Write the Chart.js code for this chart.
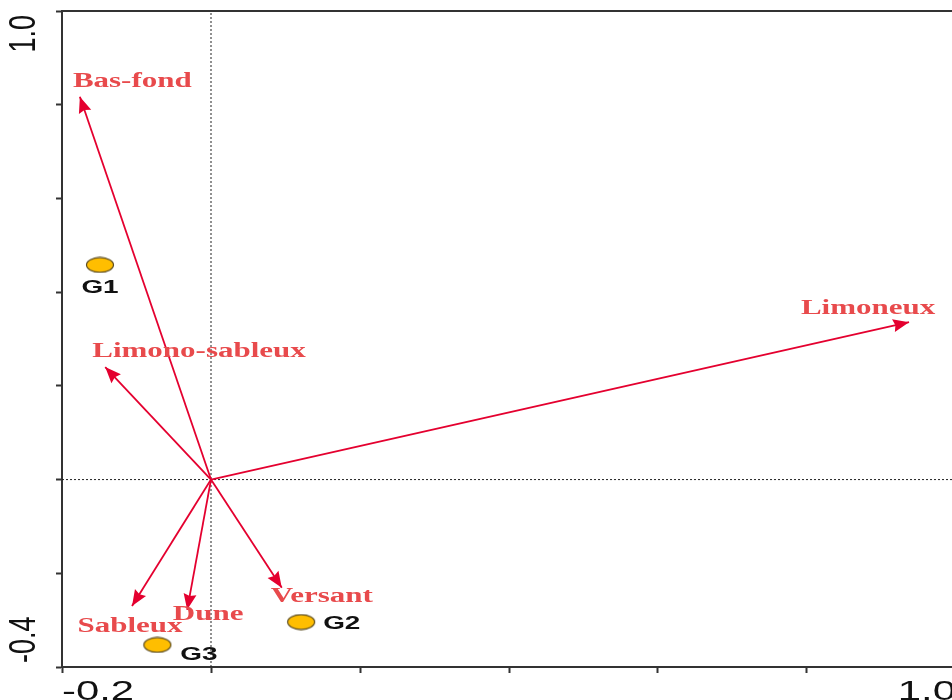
<!DOCTYPE html>
<html>
<head>
<meta charset="utf-8">
<script src="https://cdn.jsdelivr.net/npm/chart.js@4.4.1/dist/chart.umd.min.js"></script>
<style>
html, body { margin: 0; padding: 0; overflow: hidden; background: #fff; }
#wrap { width: 960px; height: 700px; }
</style>
</head>
<body>
<div id="wrap"><canvas id="c" width="960" height="700" style="width:960px;height:700px"></canvas></div>
<script>
// ---- data ----
const groupNames = ['G1', 'G2', 'G3'];
const groupX = [-0.149, 0.121, -0.072];
const groupY = [0.458, -0.304, -0.353];

const varNames = ['Bas-fond', 'Limono-sableux', 'Limoneux', 'Sableux', 'Dune', 'Versant'];
const varX = [-0.176, -0.142, 0.937, -0.106, -0.032, 0.095];
const varY = [0.817, 0.240, 0.336, -0.270, -0.278, -0.231];

const xTickLabels = ['-0.2', '1.0'];
const yTickLabels = ['-0.4', '1.0'];
const xMin = -0.2, xMax = 1.0, yMin = -0.4, yMax = 1.0;

// ---- styles (pixel offsets for labels, relative to mark) ----
const STRETCH = 1.55;
const varLabelStyle = [
  { dx: -7, dy: -15, align: 'left' },
  { dx: -13, dy: -15, align: 'left' },
  { dx: -41, dy: -13, align: 'center' },
  { dx: -2, dy: 21, align: 'center' },
  { dx: 21, dy: 5, align: 'center' },
  { dx: 40, dy: 9, align: 'center' }
];
const groupLabelStyle = [
  { dx: 0, dy: 23, align: 'center' },
  { dx: 22, dy: 2, align: 'left' },
  { dx: 23, dy: 10, align: 'left' }
];
const ARROW_COLOR = '#e4002f';
const VAR_TEXT_COLOR = '#e84a4c';
const AXIS_COLOR = '#333333';

// ellipse point image
function ellipseImage() {
  const cv = document.createElement('canvas');
  cv.width = 30; cv.height = 17;
  const g = cv.getContext('2d');
  g.beginPath();
  g.ellipse(15, 8.5, 13.5, 7.3, 0, 0, Math.PI * 2);
  g.fillStyle = '#ffbe00';
  g.fill();
  g.lineWidth = 1.2;
  g.strokeStyle = '#5a4b20';
  g.stroke();
  return cv;
}

const datasets = [];
// zero reference lines
datasets.push({
  type: 'line', data: [{x: 0, y: yMin}, {x: 0, y: yMax}],
  borderColor: '#222', borderWidth: 1, borderDash: [2, 2], pointRadius: 0, showLine: true, order: 5
});
datasets.push({
  type: 'line', data: [{x: xMin, y: 0}, {x: xMax, y: 0}],
  borderColor: '#222', borderWidth: 1, borderDash: [2, 2], pointRadius: 0, showLine: true, order: 5
});
// arrows
varNames.forEach((n, i) => {
  datasets.push({
    type: 'line', label: n, data: [{x: 0, y: 0}, {x: varX[i], y: varY[i]}],
    borderColor: ARROW_COLOR, borderWidth: 1.8, pointRadius: 0, showLine: true, order: 3
  });
});
// groups
datasets.push({
  type: 'scatter', label: 'groups',
  data: groupNames.map((n, i) => ({x: groupX[i], y: groupY[i]})),
  pointStyle: ellipseImage(), pointRadius: 10, order: 1
});

function drawStretched(ctx, text, x, y, align, font, color) {
  ctx.save();
  ctx.font = font;
  ctx.fillStyle = color;
  ctx.textBaseline = 'middle';
  const w = ctx.measureText(text).width * STRETCH;
  let left = x;
  if (align === 'center') left = x - w / 2;
  else if (align === 'right') left = x - w;
  ctx.translate(left, y);
  ctx.scale(STRETCH, 1);
  ctx.textAlign = 'left';
  ctx.fillText(text, 0, 0);
  ctx.restore();
}

const overlay = {
  id: 'overlay',
  afterDatasetsDraw(chart) {
    const ctx = chart.ctx;
    const xs = chart.scales.x, ys = chart.scales.y;
    const ca = chart.chartArea;
    // top frame line
    ctx.save();
    ctx.strokeStyle = AXIS_COLOR; ctx.lineWidth = 2;
    ctx.beginPath(); ctx.moveTo(ca.left, ca.top); ctx.lineTo(ca.right, ca.top); ctx.stroke();
    ctx.restore();
    // arrow heads
    const ox = xs.getPixelForValue(0), oy = ys.getPixelForValue(0);
    varNames.forEach((n, i) => {
      const tx = xs.getPixelForValue(varX[i]), ty = ys.getPixelForValue(varY[i]);
      const ang = Math.atan2(ty - oy, tx - ox);
      const L = 16, W = 6.5;
      ctx.save();
      ctx.translate(tx, ty); ctx.rotate(ang);
      ctx.beginPath();
      ctx.moveTo(0, 0); ctx.lineTo(-L, -W); ctx.lineTo(-L + 2, 0); ctx.lineTo(-L, W); ctx.closePath();
      ctx.fillStyle = ARROW_COLOR; ctx.fill();
      ctx.restore();
      const s = varLabelStyle[i];
      drawStretched(ctx, n, tx + s.dx, ty + s.dy, s.align, 'bold 20px "Liberation Serif", "Times New Roman", serif', VAR_TEXT_COLOR);
    });
    // group labels
    groupNames.forEach((n, i) => {
      const px = xs.getPixelForValue(groupX[i]), py = ys.getPixelForValue(groupY[i]);
      const s = groupLabelStyle[i];
      drawStretched(ctx, n, px + s.dx, py + s.dy, s.align, 'bold 18px "Liberation Sans", Arial, sans-serif', '#111');
    });
    // axis tick labels
    const tickFont = '27px "Liberation Sans", Arial, sans-serif';
    const bx = chart.chartArea.bottom + 26;
    drawStretched(ctx, xTickLabels[0], xs.getPixelForValue(xMin), bx, 'left', tickFont, '#111');
    drawStretched(ctx, xTickLabels[1], xs.getPixelForValue(xMax), bx, 'right', tickFont, '#111');
    // y labels rotated
    const yl = [[yTickLabels[0], ys.getPixelForValue(yMin) - 4, 'left'], [yTickLabels[1], ys.getPixelForValue(yMax) + 4, 'right']];
    yl.forEach(([t, py, al]) => {
      ctx.save();
      ctx.translate(25, py);
      ctx.rotate(-Math.PI / 2);
      ctx.font = tickFont;
      ctx.fillStyle = '#111';
      ctx.textBaseline = 'middle';
      ctx.textAlign = al;
      ctx.scale(1, 1.4);
      ctx.fillText(t, 0, 0);
      ctx.restore();
    });
  }
};

new Chart(document.getElementById('c'), {
  type: 'scatter',
  data: { datasets },
  options: {
    responsive: false,
    animation: false,
    layout: { autoPadding: false, padding: { left: 56, right: 4, top: 11, bottom: 27 } },
    plugins: { legend: { display: false }, tooltip: { enabled: false } },
    scales: {
      x: {
        type: 'linear', min: xMin, max: xMax,
        ticks: { stepSize: 0.2, display: false },
        grid: { drawOnChartArea: false, drawTicks: true, tickLength: 6, tickColor: AXIS_COLOR, tickWidth: 2 },
        border: { display: true, color: AXIS_COLOR, width: 2 }
      },
      y: {
        type: 'linear', min: yMin, max: yMax,
        ticks: { stepSize: 0.2, display: false },
        grid: { drawOnChartArea: false, drawTicks: true, tickLength: 6, tickColor: AXIS_COLOR, tickWidth: 2 },
        border: { display: true, color: AXIS_COLOR, width: 2 }
      }
    }
  },
  plugins: [overlay]
});
</script>
</body>
</html>
